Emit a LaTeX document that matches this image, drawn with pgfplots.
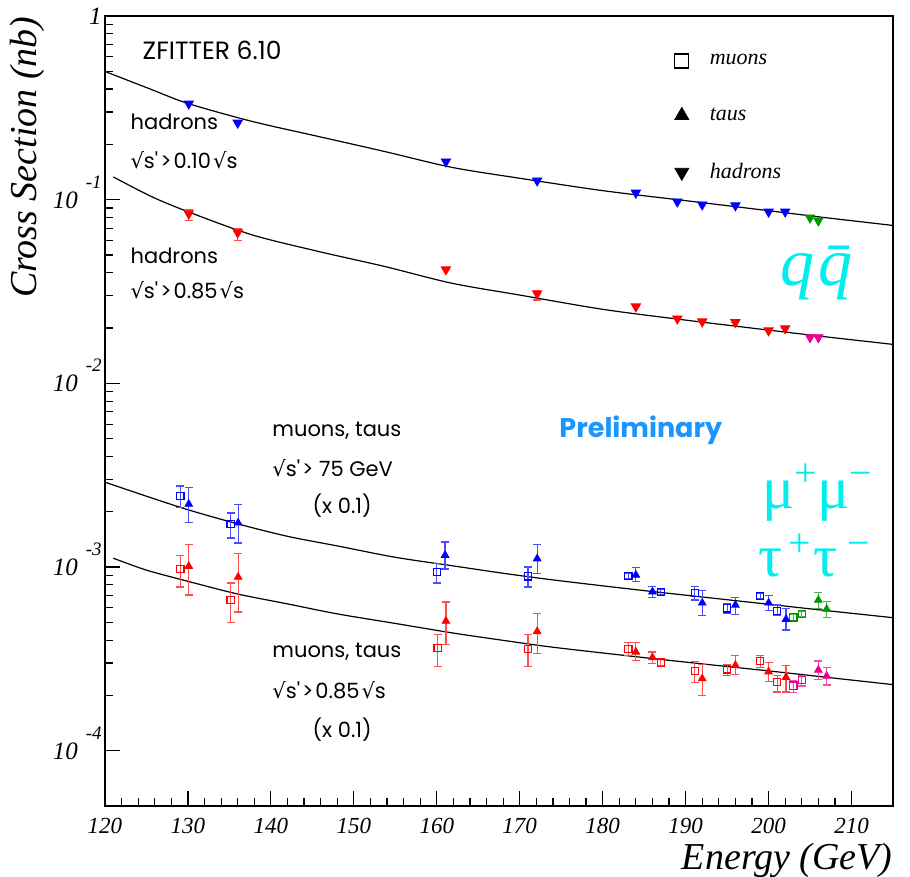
\documentclass[border=0pt]{standalone}
\usepackage{fontspec}
\setmainfont{Liberation Serif}
\newfontfamily\gothic{Poppins}
\newfontfamily\djsans{DejaVu Sans}
\usepackage{pgfplots}
\usepackage{pgfplotstable}
\pgfplotsset{compat=1.18}

\definecolor{mgreen}{RGB}{0,150,0}
\definecolor{prelim}{RGB}{25,150,255}
\definecolor{cyn}{RGB}{0,238,238}

\newcommand{\sq}{{\djsans √}}
\newcommand{\ylab}[1]{\textit{10}\hspace{4pt}\raisebox{10pt}{\fontsize{9.5}{9.5}\selectfont\textit{#1}}}

% hadron cross sections
\pgfplotstableread{
E v p m
130.1 0.333 0 0
136.0 0.262 0 0
161.1 0.161 0 0
172.1 0.127 0 0
184.0 0.109 0 0
189.0 0.0975 0 0
192.0 0.094 0 0
196.0 0.093 0 0
200.0 0.086 0 0
202.0 0.086 0 0
}\hadA
\pgfplotstableread{
E v
205.0 0.0798
206.0 0.0769
}\hadAg
\pgfplotstableread{
E v p m
130.1 0.0839 0.004 0.007
136.0 0.0662 0.003 0.0063
161.1 0.0417 0 0
172.1 0.0308 0.001 0.0024
184.0 0.0262 0 0
189.0 0.0225 0 0
192.0 0.0217 0 0
196.0 0.0215 0 0
200.0 0.0194 0 0
202.0 0.0199 0 0
}\hadB
\pgfplotstableread{
E v
205.0 0.0178
206.0 0.0178
}\hadBm

% muons / taus, sqrt(s')>75 GeV (x 0.1)
\pgfplotstableread{
E v p m
129.1 2.44e-3 0.32e-3 0.34e-3
135.15 1.71e-3 0.26e-3 0.27e-3
160.0 9.39e-4 1.11e-4 1.21e-4
171.0 8.90e-4 1.10e-4 1.12e-4
183.1 8.93e-4 0.3e-4 0.3e-4
187.0 7.33e-4 0.25e-4 0.25e-4
191.1 7.24e-4 0.57e-4 0.63e-4
195.0 5.96e-4 0.38e-4 0.35e-4
199.0 6.95e-4 0.25e-4 0.25e-4
201.05 5.78e-4 0.43e-4 0.31e-4
}\muA
\pgfplotstableread{
E v p m
203.0 5.32e-4 0.2e-4 0.2e-4
204.0 5.54e-4 0.2e-4 0.2e-4
}\muAg
\pgfplotstableread{
E v p m
130.1 2.20e-3 0.50e-3 0.46e-3
136.05 1.74e-3 0.44e-3 0.39e-3
161.0 1.16e-3 2.1e-4 1.85e-4
172.1 1.11e-3 2.1e-4 1.9e-4
184.0 9.04e-4 0.87e-4 0.72e-4
186.0 7.33e-4 0.48e-4 0.49e-4
192.0 6.38e-4 1.05e-4 0.91e-4
196.0 6.21e-4 0.60e-4 0.67e-4
200.0 6.38e-4 0.60e-4 0.60e-4
202.1 5.19e-4 0.77e-4 0.65e-4
}\tauA
\pgfplotstableread{
E v p m
206.0 6.61e-4 0.67e-4 0.65e-4
207.0 5.90e-4 0.57e-4 0.58e-4
}\tauAg

% muons / taus, sqrt(s')>0.85 sqrt(s) (x 0.1)
\pgfplotstableread{
E v p m
129.1 9.75e-4 1.85e-4 1.97e-4
135.15 6.61e-4 1.57e-4 1.60e-4
160.1 3.62e-4 0.69e-4 0.74e-4
171.0 3.59e-4 0.69e-4 0.71e-4
183.1 3.57e-4 0.32e-4 0.28e-4
187.0 3.02e-4 0.12e-4 0.12e-4
191.1 2.71e-4 0.34e-4 0.37e-4
195.0 2.77e-4 0.19e-4 0.19e-4
199.0 3.09e-4 0.20e-4 0.25e-4
201.05 2.37e-4 0.21e-4 0.28e-4
}\muB
\pgfplotstableread{
E v p m
203.0 2.26e-4 0.14e-4 0.19e-4
204.0 2.42e-4 0.16e-4 0.17e-4
}\muBm
\pgfplotstableread{
E v p m
130.1 1.01e-3 3.2e-4 3.06e-4
136.05 8.82e-4 3.08e-4 3.13e-4
161.1 5.08e-4 1.37e-4 1.28e-4
172.1 4.46e-4 1.11e-4 1.06e-4
184.0 3.45e-4 0.44e-4 0.36e-4
186.0 3.22e-4 0.23e-4 0.23e-4
192.0 2.47e-4 0.48e-4 0.48e-4
196.0 2.92e-4 0.37e-4 0.31e-4
200.0 2.69e-4 0.34e-4 0.32e-4
202.1 2.51e-4 0.39e-4 0.42e-4
}\tauB
\pgfplotstableread{
E v p m
206.0 2.75e-4 0.33e-4 0.31e-4
207.0 2.55e-4 0.29e-4 0.27e-4
}\tauBm

% ZFITTER curves
\pgfplotstableread{
E v
120.0 0.499
125.6 0.398
130.0 0.334
137.7 0.267
145.7 0.221
153.7 0.183
161.8 0.150
169.9 0.131
180.0 0.112
190.0 0.0988
200.0 0.0871
207.0 0.0797
215.0 0.0724
}\curA
\pgfplotstableread{
E v
121.0 0.133
125.6 0.104
130.0 0.0860
137.7 0.0644
145.7 0.0523
153.7 0.0433
161.8 0.0351
169.9 0.0303
180.0 0.0253
190.0 0.0221
200.0 0.0195
207.0 0.0179
215.0 0.0163
}\curB
\pgfplotstableread{
E v
120.0 2.897e-3
125.0 2.43e-3
130.0 2.051e-3
136.0 1.718e-3
142.0 1.47e-3
148.0 1.303e-3
155.0 1.13e-3
162.0 1.014e-3
168.0 9.25e-4
174.0 8.51e-4
184.0 7.53e-4
192.0 6.87e-4
200.0 6.27e-4
207.0 5.79e-4
215.0 5.30e-4
}\curC
\pgfplotstableread{
E v
121.0 1.117e-3
125.0 9.62e-4
130.0 8.36e-4
136.0 7.13e-4
142.0 6.30e-4
148.0 5.56e-4
155.0 4.93e-4
162.0 4.37e-4
168.0 3.99e-4
174.0 3.66e-4
184.0 3.25e-4
192.0 2.97e-4
200.0 2.72e-4
207.0 2.51e-4
215.0 2.29e-4
}\curD

\pgfplotsset{
  errs/.style={error bars/.cd, y dir=both, y explicit,
    error bar style={line width=0.6pt, #1!70},
    error mark options={rotate=90, mark size=2pt, line width=0.6pt, #1!70}},
  mus/.style={forget plot, only marks, mark=square, mark size=1.8pt, #1, mark options={line width=0.6pt}, errs=#1},
  taus/.style={forget plot, only marks, mark=triangle*, mark size=2.2pt, #1, errs=#1},
  hads/.style={forget plot, only marks, mark=triangle*, mark size=2.7pt, #1, mark options={rotate=180}},
  curve/.style={forget plot, no marks, black, line width=0.6pt, smooth},
}

\begin{document}
\begin{tikzpicture}
\useasboundingbox (-52.5pt,-35.5pt) rectangle (402.5pt,403pt);
\begin{axis}[
  at={(0,0)}, anchor=south west,
  scale only axis, width=394pt, height=395pt,
  xmin=120, xmax=215, ymode=log, ymin=5e-5, ymax=1,
  clip=false,
  xtick={120,130,...,210},
  xticklabels={120,130,140,150,160,170,180,190,200,210},
  minor x tick num=4,
  ytick={1e-4,1e-3,1e-2,1e-1,1},
  yticklabels={\ylab{-4},\ylab{-3},\ylab{-2},\ylab{-1},\textit{1}\hspace{8.5pt}},
  tick align=inside, xtick pos=bottom, ytick pos=left,
  major tick length=7.5pt, minor tick length=4pt,
  axis line style={line width=1pt},
  tick style={line width=0.6pt, black},
  xticklabel style={font=\fontsize{11.5}{11.5}\selectfont\itshape, anchor=base, inner sep=0pt, yshift=-13.5pt},
  yticklabel style={font=\fontsize{12.5}{12.5}\selectfont\itshape, anchor=base east, inner sep=0pt, xshift=-1.5pt, yshift=-4.2pt},
  legend style={draw=none, fill=none, at={(rel axis cs:0.715,0.962)}, anchor=north west,
    font=\fontsize{11}{11}\selectfont\itshape, row sep=16pt},
  legend cell align=left,
]
\addlegendimage{only marks, mark=square, mark size=3.5pt, black, mark options={line width=0.6pt}}
\addlegendentry{\hspace*{8.5pt}muons}
\addlegendimage{only marks, mark=triangle*, mark size=4pt, black}
\addlegendentry{\hspace*{8.5pt}taus}
\addlegendimage{only marks, mark=triangle*, mark size=4pt, black, mark options={rotate=180}}
\addlegendentry{\hspace*{8.5pt}hadrons}

\addplot[curve] table[x=E, y=v] {\curA};
\addplot[curve] table[x=E, y=v] {\curB};
\addplot[curve] table[x=E, y=v] {\curC};
\addplot[curve] table[x=E, y=v] {\curD};

\addplot[hads=blue] table[x=E, y=v] {\hadA};
\addplot[hads=mgreen] table[x=E, y=v] {\hadAg};
\addplot[hads=red, errs=red] table[x=E, y=v, y error plus=p, y error minus=m] {\hadB};
\addplot[hads=magenta] table[x=E, y=v] {\hadBm};

\addplot[mus=blue] table[x=E, y=v, y error plus=p, y error minus=m] {\muA};
\addplot[mus=mgreen] table[x=E, y=v, y error plus=p, y error minus=m] {\muAg};
\addplot[taus=blue] table[x=E, y=v, y error plus=p, y error minus=m] {\tauA};
\addplot[taus=mgreen] table[x=E, y=v, y error plus=p, y error minus=m] {\tauAg};
\addplot[mus=red] table[x=E, y=v, y error plus=p, y error minus=m] {\muB};
\addplot[mus=magenta] table[x=E, y=v, y error plus=p, y error minus=m] {\muBm};
\addplot[taus=red] table[x=E, y=v, y error plus=p, y error minus=m] {\tauB};
\addplot[taus=magenta] table[x=E, y=v, y error plus=p, y error minus=m] {\tauBm};

% annotations
\node[font=\gothic\fontsize{12.5}{12.5}\selectfont, inner sep=0pt] at (rel axis cs:0.136,0.957) {ZFITTER 6.10};
\begin{scope}[every node/.style={font=\gothic\fontsize{10.5}{10.5}\selectfont, inner sep=0pt}]
\node[anchor=west] at (rel axis cs:0.032,0.866) {hadrons};
\node[anchor=west] at (rel axis cs:0.032,0.818) {\sq s'\kern1pt>\kern1pt0.10\kern1pt\sq s};
\node[anchor=west] at (rel axis cs:0.032,0.696) {hadrons};
\node[anchor=west] at (rel axis cs:0.032,0.653) {\sq s'\kern1pt>\kern1pt0.85\kern1pt\sq s};
\node[anchor=west] at (rel axis cs:0.212,0.475) {muons, taus};
\node[anchor=west] at (rel axis cs:0.212,0.427) {\sq s'\kern1pt> 75 GeV};
\node[anchor=west] at (rel axis cs:0.263,0.380) {(x 0.1)};
\node[anchor=west] at (rel axis cs:0.212,0.195) {muons, taus};
\node[anchor=west] at (rel axis cs:0.212,0.147) {\sq s'\kern1pt>\kern1pt0.85\kern1pt\sq s};
\node[anchor=west] at (rel axis cs:0.263,0.097) {(x 0.1)};
\end{scope}
\node[font=\gothic\bfseries\fontsize{13.5}{13.5}\selectfont, text=prelim, inner sep=0pt] at (rel axis cs:0.680,0.475) {Preliminary};
\node[anchor=base west, inner sep=0pt, text=cyn, font=\fontsize{34}{34}\selectfont\itshape] at (rel axis cs:0.857,0.659) {q\kern2pt\={q}};
\node[anchor=base west, inner sep=0pt, text=cyn, font=\fontsize{30}{30}\selectfont] at (rel axis cs:0.834,0.377) {μ\raisebox{11pt}{\fontsize{20}{20}\selectfont +}μ\raisebox{11pt}{\fontsize{20}{20}\selectfont −}};
\node[anchor=base west, inner sep=0pt, text=cyn, font=\fontsize{30}{30}\selectfont] at (rel axis cs:0.829,0.290) {τ\kern3pt\raisebox{10pt}{\fontsize{20}{20}\selectfont +}\kern1pt τ\kern5pt\raisebox{10pt}{\fontsize{20}{20}\selectfont −}};

% axis titles
\node[rotate=90, anchor=south east, inner sep=0pt, font=\fontsize{19}{19}\selectfont\itshape] at ([xshift=-30pt]rel axis cs:0,1) {Cross Section (nb)};
\node[anchor=base east, inner sep=0pt, font=\fontsize{19}{19}\selectfont\itshape] at ([yshift=-31.5pt]rel axis cs:1,0) {Energy (GeV)};
\end{axis}
\end{tikzpicture}
\end{document}
